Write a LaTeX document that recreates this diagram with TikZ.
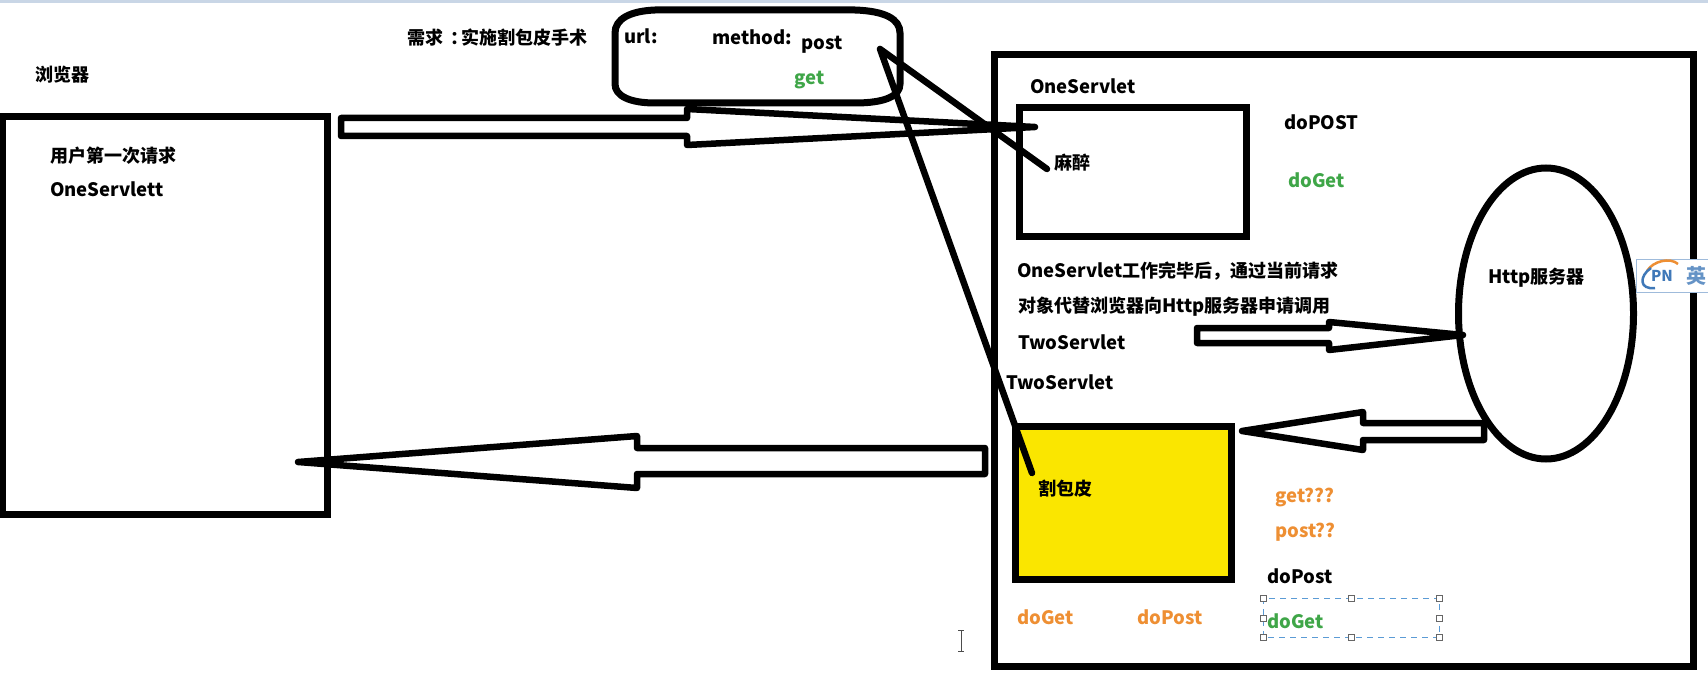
\documentclass[tikz,border=0pt]{standalone}
\usepackage{fontspec}
\setmainfont{Noto Sans CJK SC}
\usetikzlibrary{shapes.geometric}
\definecolor{greenT}{HTML}{3FA648}
\definecolor{orangeT}{HTML}{EE8F33}
\definecolor{yellowF}{HTML}{FAE600}
\definecolor{selB}{HTML}{5B9BD5}
\definecolor{topS}{HTML}{C9D6E6}
\definecolor{imeB}{HTML}{3F78B8}
\tikzset{
  x=1pt,y=-1pt,
  thick box/.style={draw=black,line width=7pt,line join=miter},
  block arrow/.style={draw=black,line width=6.5pt,line join=round,line cap=round},
  wire/.style={draw=black,line width=6.5pt,line cap=round},
  lbl/.style={anchor=west,inner sep=0pt,yshift=-1.5pt,font=\fontsize{18.5}{20}\selectfont\bfseries,text=black},
  cjk lbl/.style={lbl,font=\fontsize{18}{20}\selectfont\bfseries},
  greenlbl/.style={lbl,text=greenT},
  orangelbl/.style={lbl,text=orangeT},
  handle/.style={draw=black!60,fill=white,line width=1pt,minimum size=6pt,inner sep=0pt,rectangle}
}
\newcommand{\zh}[1]{{\fontsize{18}{20}\selectfont #1}}
\begin{document}
\begin{tikzpicture}
\useasboundingbox (0,0) rectangle (1708,674);
\fill[white] (0,0) rectangle (1708,674);
\fill[topS] (0,0) rectangle (1708,3);
% boxes
\node[thick box,minimum width=325pt,minimum height=398pt,inner sep=0pt] (browser) at (165,315.5) {};
\node[thick box,minimum width=699pt,minimum height=611pt,inner sep=0pt] (server) at (1343.5,360.5) {};
\node[thick box,minimum width=227pt,minimum height=128pt,inner sep=0pt] (one) at (1132.5,172) {};
\node[thick box,fill=yellowF,minimum width=216pt,minimum height=153pt,inner sep=0pt] (two) at (1123.5,502.5) {};
\node[draw=black,line width=7pt,fill=white,ellipse,minimum width=175pt,minimum height=291pt,inner sep=0pt] (http) at (1546,313.5) {};
% rounded request shape
\draw[line width=7pt,draw=black] (655,10) -- (855,10) .. controls (885,11) and (900,19) .. (900,33)
  -- (900,84) .. controls (900,96) and (885,103) .. (855,103) -- (655,103)
  .. controls (630,103) and (615,96) .. (615,84) -- (615,33) .. controls (615,19) and (630,11) .. (655,10) -- cycle;
% coordinates
\coordinate (v) at (880,49);
\coordinate (anes) at (1047,169);
\coordinate (cut) at (1032,473);
\coordinate (tipA) at (1035,127);
\coordinate (tipB) at (1463,335);
\coordinate (tipC) at (1242,431);
\coordinate (tipD) at (298,462);
% block arrows
\draw[block arrow] (tipA) -- (687,109) -- (687,118) -- (341,118) -- (341,136) -- (687,136) -- (687,145) -- cycle;
\draw[block arrow] (tipB) -- (1329,322) -- (1329,328) -- (1197,328) -- (1197,343) -- (1329,343) -- (1329,350) -- cycle;
\draw[block arrow] (tipC) -- (1363,412) -- (1363,423) -- (1484,423) -- (1484,440) -- (1363,440) -- (1363,450) -- cycle;
\draw[block arrow] (tipD) -- (637,436) -- (637,448) -- (985,448) -- (985,474) -- (637,474) -- (637,488) -- cycle;
% wires
\draw[wire,line join=round] (anes) -- (v) -- (cut);
% texts
\node[cjk lbl] (t1) at (35,73) {浏览器};
\node[cjk lbl] (t2) at (407,36) {需求\kern7pt\symbol{"FF1A}\kern-7pt实施割包皮手术};
\node[cjk lbl] (t3) at (50,154) {用户第一次请求};
\node[lbl] (t4) at (50,188) {OneServlett};
\node[lbl] (t5) at (624,35) {url:};
\node[lbl] (t6) at (712,36) {method:};
\node[lbl] (t7) at (801,43) {post};
\node[greenlbl] (t8) at (794,79) {get};
\node[lbl] (t9) at (1030,85) {OneServlet};
\node[cjk lbl] (t10) at (1054,161) {麻醉};
\node[lbl] (t11) at (1284,121) {doPOST};
\node[greenlbl] (t12) at (1288,179) {doGet};
\node[lbl] (t13) at (1017,270) {OneServlet\zh{工作完毕后\symbol{"FF0C}通过当前请求}};
\node[lbl] (t14) at (1018,305) {\zh{对象代替浏览器向}Http\zh{服务器申请调用}};
\node[lbl] (t15) at (1018,341) {TwoServlet};
\node[lbl] (t16) at (1006,381) {TwoServlet};
\node[lbl] (t17) at (1488,276) {Http\zh{服务器}};
\node[cjk lbl] (t18) at (1038,487) {割包皮};
\node[orangelbl] (t19) at (1275,496) {get???};
\node[orangelbl] (t20) at (1275,531) {post??};
\node[lbl] (t21) at (1267,575) {doPost};
\node[orangelbl] (t22) at (1017,616) {doGet};
\node[orangelbl] (t23) at (1137,616) {doPost};
% selection frame
\draw[selB,line width=1pt,dash pattern=on 6pt off 5pt] (1263,598) rectangle (1439,637);
\foreach \px/\py/\nm in {1263/598/a,1351/598/b,1439/598/c,1263/618/d,1439/618/e,1263/637/f,1351/637/g,1439/637/h}
  \node[handle] (h\nm) at (\px,\py) {};
\node[greenlbl] (t24) at (1267,620) {doGet};
% text cursor
\draw[black!70,line width=1pt] (958,630) -- (964,630) (961,630) -- (961,651) (958,651) -- (964,651);
% IME widget
\draw[draw=imeB!50,fill=white,line width=1pt] (1636,259.5) rectangle (1709,292);
\draw[orangeT,line width=2.5pt] (1647,271) .. controls (1653,261) and (1670,257) .. (1678,264);
\draw[imeB,line width=2.5pt] (1651,268) .. controls (1639,276) and (1639,290) .. (1655,288);
\node[inner sep=0pt,font=\fontsize{15}{15}\selectfont\bfseries\itshape,text=imeB] (pn) at (1662,276) {PN};
\node[inner sep=0pt,font=\fontsize{20}{20}\selectfont\bfseries,text=imeB!80] (ying) at (1696,276) {英};
\end{tikzpicture}
\end{document}
